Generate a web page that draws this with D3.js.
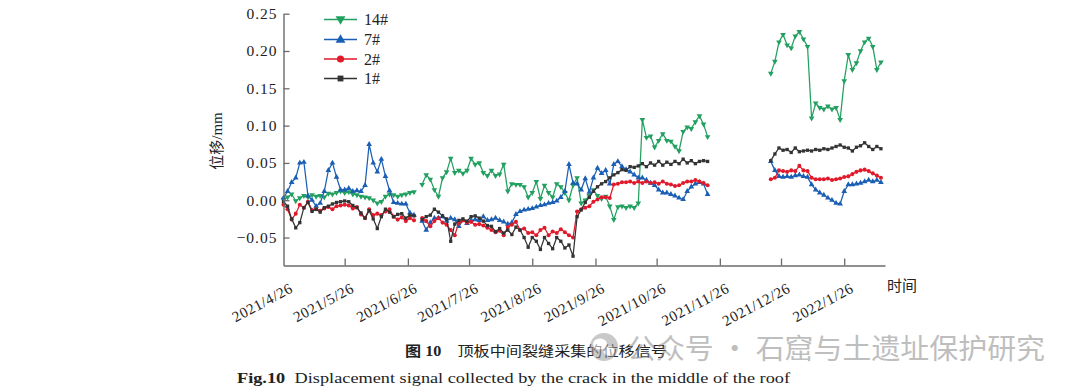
<!DOCTYPE html>
<html><head><meta charset="utf-8">
<script src="https://cdn.jsdelivr.net/npm/d3@7/dist/d3.min.js"></script>
<style>body{margin:0;background:#fff}svg{display:block}</style>
</head><body>
<svg id="chart" width="1080" height="392"></svg>
<script>
// ---------- data ----------
const seriesNames = ["14#", "7#", "2#", "1#"];
const seriesColors = ["#22a060", "#1a5fb4", "#e0192b", "#333333"];
const seriesSymbols = ["down", "up", "circle", "square"];
// three recording periods, one reading every 2 days
const segStarts = ["2021-04-26", "2021-07-03", "2021-12-21"];
const stepDays = 2;
const yTicks = [-0.05, 0.00, 0.05, 0.10, 0.15, 0.20, 0.25];
const xTickDates = ["2021-04-26","2021-05-26","2021-06-26","2021-07-26","2021-08-26","2021-09-26","2021-10-26","2021-11-26","2021-12-26","2022-01-26"];
const xTickLabels = ["2021/4/26","2021/5/26","2021/6/26","2021/7/26","2021/8/26","2021/9/26","2021/10/26","2021/11/26","2021/12/26","2022/1/26"];

const s14_a = [0.001,0.004,0.008,-0.001,0.003,0.006,0.004,0.007,0.005,0.006,0.004,0.009,0.008,0.010,0.012,0.010,0.011,0.008,0.007,0.005,0.004,0.003,0.000,-0.004,-0.002,0.005,0.008,0.007,0.005,0.007,0.008,0.010,0.011];
const s14_b = [0.021,0.034,0.028,0.014,0.005,0.030,0.038,0.056,0.037,0.040,
  0.036,0.040,0.056,0.048,0.050,0.037,0.033,0.040,0.033,0.035,
  0.048,0.012,0.022,0.021,0.021,0.018,0.004,0.010,0.025,0.002,
  0.020,0.010,0.004,0.022,0.018,0.010,0.000,0.020,0.030,-0.004,
  0.000,0.006,0.014,0.006,0.002,0.005,-0.008,-0.026,-0.009,-0.008,
  -0.010,-0.008,-0.010,-0.004,0.108,0.084,0.086,0.071,0.080,0.089,
  0.080,0.079,0.072,0.066,0.092,0.098,0.096,0.105,0.113,0.102,0.085];
const s14_c = [0.170,0.186,0.212,0.222,0.208,0.204,0.220,0.226,0.216,0.206,0.110,0.130,0.124,0.122,0.126,0.122,0.124,0.108,0.160,0.195,0.175,0.184,0.200,0.212,0.217,0.206,0.175,0.185];

const s7_a = [0.003,0.012,0.024,0.030,0.050,0.051,0.006,0.000,-0.008,-0.004,0.012,0.040,0.050,0.031,0.014,0.014,0.016,0.012,0.013,0.012,0.020,0.075,0.050,0.038,0.055,0.032,0.013,-0.003,-0.004,-0.005,-0.005,-0.017,-0.020];
const s7_b = [-0.028,-0.040,-0.030,-0.024,-0.024,-0.022,-0.028,-0.024,-0.026,-0.035,
  -0.027,-0.031,-0.027,-0.026,-0.027,-0.022,-0.027,-0.026,-0.024,-0.027,
  -0.029,-0.032,-0.030,-0.019,-0.015,-0.013,-0.012,-0.011,-0.009,-0.007,
  -0.006,-0.004,-0.003,-0.001,0.004,0.012,0.048,0.023,0.022,0.014,
  0.029,0.011,0.030,0.043,0.036,0.040,0.022,0.048,0.052,0.045,
  0.041,0.038,0.034,0.030,0.030,0.027,0.023,0.020,0.014,0.010,
  0.010,0.008,0.006,0.003,0.001,0.012,0.018,0.022,0.024,0.022,0.008];
const s7_c = [0.052,0.040,0.032,0.031,0.032,0.031,0.033,0.034,0.032,0.031,0.021,0.014,0.010,0.007,0.003,0.000,-0.004,-0.005,0.012,0.021,0.021,0.022,0.023,0.025,0.027,0.025,0.027,0.024];

const s2_a = [-0.006,-0.012,-0.026,-0.018,-0.006,-0.010,-0.002,-0.013,-0.012,-0.014,-0.011,-0.009,-0.012,-0.008,-0.007,-0.006,-0.007,-0.011,-0.009,-0.019,-0.024,-0.012,-0.020,-0.018,-0.020,-0.015,-0.012,-0.022,-0.026,-0.023,-0.028,-0.024,-0.027];
const s2_b = [-0.024,-0.028,-0.035,-0.028,-0.024,-0.030,-0.033,-0.040,-0.047,-0.030,
  -0.027,-0.030,-0.029,-0.033,-0.032,-0.034,-0.037,-0.040,-0.043,-0.041,
  -0.047,-0.036,-0.033,-0.029,-0.040,-0.038,-0.044,-0.043,-0.047,-0.040,
  -0.037,-0.047,-0.042,-0.044,-0.039,-0.043,-0.047,-0.050,-0.015,-0.012,
  -0.010,-0.008,-0.002,0.001,0.004,0.004,0.003,0.021,0.022,0.024,
  0.024,0.025,0.023,0.025,0.023,0.025,0.023,0.024,0.022,0.025,
  0.022,0.021,0.019,0.020,0.023,0.025,0.025,0.027,0.025,0.023,0.020];
const s2_c = [0.028,0.030,0.040,0.039,0.038,0.040,0.039,0.046,0.040,0.039,0.030,0.028,0.028,0.028,0.029,0.027,0.028,0.029,0.031,0.032,0.035,0.038,0.040,0.041,0.039,0.036,0.033,0.030];

const s1_a = [-0.002,-0.008,-0.025,-0.037,-0.030,-0.010,-0.003,-0.015,-0.012,-0.016,-0.010,-0.008,-0.005,-0.003,-0.002,-0.001,-0.002,-0.007,-0.010,-0.017,-0.024,-0.014,-0.025,-0.038,-0.022,-0.012,-0.016,-0.022,-0.019,-0.018,-0.024,-0.020,-0.021];
const s1_b = [-0.026,-0.022,-0.020,-0.012,-0.016,-0.021,-0.025,-0.055,-0.032,-0.027,
  -0.025,-0.028,-0.022,-0.021,-0.024,-0.028,-0.034,-0.035,-0.042,-0.038,
  -0.044,-0.040,-0.046,-0.036,-0.040,-0.050,-0.063,-0.050,-0.055,-0.066,
  -0.050,-0.058,-0.065,-0.050,-0.055,-0.064,-0.060,-0.075,-0.022,-0.013,
  -0.003,0.004,0.012,0.018,0.022,0.025,0.030,0.034,0.037,0.041,
  0.040,0.045,0.044,0.046,0.049,0.045,0.050,0.047,0.052,0.047,
  0.051,0.048,0.052,0.049,0.055,0.050,0.053,0.049,0.052,0.053,0.052];
const s1_c = [0.053,0.062,0.070,0.067,0.068,0.064,0.070,0.065,0.066,0.067,0.066,0.068,0.067,0.069,0.068,0.070,0.072,0.074,0.071,0.070,0.066,0.071,0.073,0.077,0.072,0.068,0.072,0.069];

const seriesValues = [[s14_a,s14_b,s14_c],[s7_a,s7_b,s7_c],[s2_a,s2_b,s2_c],[s1_a,s1_b,s1_c]];

// ---------- drawing ----------
const svg = d3.select("#chart");
svg.append("rect").attr("width",1080).attr("height",392).attr("fill","#fff");
const parse = s => { const [a,b,c] = s.split("-").map(Number); return new Date(Date.UTC(a,b-1,c)); };

const x = d3.scaleUtc().domain([parse("2021-04-26"), parse("2022-02-15")]).range([283.5, 885]);
const y = d3.scaleLinear().domain([-0.0875, 0.25]).range([265.5, 13.7]);

const axisColor = "#6b6b6b";
const serif = "'Liberation Serif','Times New Roman',serif";
const cjk = "'Liberation Serif','Noto Sans CJK SC',serif";

function symbolPath(kind, size) {
  if (kind === "circle") return d3.symbol(d3.symbolCircle, size)();
  if (kind === "square") return d3.symbol(d3.symbolSquare, size)();
  return d3.symbol(d3.symbolTriangle, size)();
}
function drawMarker(g, kind, cx, cy, size, color) {
  return g.append("path").attr("d", symbolPath(kind, size)).attr("fill", color)
    .attr("transform", `translate(${cx},${cy})` + (kind === "down" ? " rotate(180)" : ""));
}

const plot = svg.append("g");
const line = d3.line().x(d => x(d.date)).y(d => y(d.v));
const markerSize = {down: 14, up: 14, circle: 13, square: 11};

seriesNames.forEach((name, si) => {
  const col = seriesColors[si], kind = seriesSymbols[si];
  const g = plot.append("g");
  seriesValues[si].forEach((vals, k) => {
    const start = parse(segStarts[k]);
    const pts = vals.map((v, i) => ({date: d3.utcDay.offset(start, i * stepDays), v}));
    g.append("path").datum(pts).attr("d", line).attr("fill","none")
      .attr("stroke", col).attr("stroke-width", 1.25);
    pts.forEach(p => drawMarker(g, kind, x(p.date), y(p.v), markerSize[kind], col));
  });
});

// axes
const fmt = d => (d < 0 ? "\u2212" : "") + Math.abs(d).toFixed(2);
const gy = svg.append("g").attr("transform", `translate(${x.range()[0]},0)`)
  .call(d3.axisLeft(y).tickValues(yTicks).tickFormat(fmt).tickSizeInner(-6).tickSizeOuter(0).tickPadding(6));
const gx = svg.append("g").attr("transform", `translate(0,${y.range()[0]})`)
  .call(d3.axisBottom(x).tickValues(xTickDates.map(parse)).tickFormat((d,i) => xTickLabels[i]).tickSizeInner(-7).tickSizeOuter(0));
[gy, gx].forEach(g => {
  g.select(".domain").attr("stroke", axisColor).attr("stroke-width", 1.4);
  g.selectAll(".tick line").attr("stroke", axisColor).attr("stroke-width", 1.3);
  g.selectAll("text").attr("font-family", serif).attr("fill", "#222");
});
gy.selectAll("text").attr("font-size", 15.5).attr("letter-spacing", "1px");
gx.selectAll(".tick").filter((d,i) => i === 0).select("line").remove();
gx.selectAll("text").attr("font-size", 15).attr("letter-spacing", "0.6px")
  .attr("text-anchor", "end").attr("x", 0).attr("y", 0).attr("dy", 0)
  .attr("transform", "translate(10,26) rotate(-28)");

// axis titles
svg.append("text").attr("transform", "translate(222,141) rotate(-90)").attr("text-anchor","middle")
  .attr("font-family", cjk).attr("font-size", 15).attr("fill","#222").text("位移/mm");
svg.append("text").attr("x", 887).attr("y", 291).attr("font-family", cjk).attr("font-size", 15)
  .attr("fill","#222").text("时间");

// legend
const leg = svg.append("g");
const legRows = [19.5, 39.5, 59, 78.5];
seriesNames.forEach((name, si) => {
  const yy = legRows[si];
  leg.append("line").attr("x1", 324).attr("x2", 357).attr("y1", yy).attr("y2", yy)
    .attr("stroke", seriesColors[si]).attr("stroke-width", 1.3);
  const kind = seriesSymbols[si];
  drawMarker(leg, kind, 340.5, yy + (kind === "down" ? -0.5 : kind === "up" ? 0.5 : 0),
    kind === "circle" ? 40 : kind === "square" ? 34 : 42, seriesColors[si]);
  leg.append("text").attr("x", 364).attr("y", yy + 5.5).attr("font-family", serif)
    .attr("font-size", 16).attr("fill", "#222").text(name);
});

// captions
const cap1 = svg.append("text").attr("x", 405).attr("y", 356).attr("font-family", cjk)
  .attr("font-size", 14).attr("fill", "#222").attr("textLength", 262).attr("lengthAdjust", "spacingAndGlyphs");
cap1.append("tspan").attr("font-weight", "bold").text("图 10");
cap1.append("tspan").attr("dx", 14).text("顶板中间裂缝采集的位移信号");
const cap2 = svg.append("text").attr("x", 237).attr("y", 383).attr("font-family", serif)
  .attr("font-size", 15.5).attr("fill", "#222").attr("textLength", 553).attr("lengthAdjust", "spacingAndGlyphs");
cap2.append("tspan").attr("font-weight", "bold").text("Fig.10");
cap2.append("tspan").attr("dx", 8).text("Displacement signal collected by the crack in the middle of the roof");

// watermark
const wm = svg.append("g").attr("opacity", 0.55);
wm.append("circle").attr("cx", 604).attr("cy", 347).attr("r", 14).attr("fill", "#9e9e9e");
wm.append("ellipse").attr("cx", 600).attr("cy", 344).attr("rx", 7).attr("ry", 5.5).attr("fill", "#fff");
wm.append("ellipse").attr("cx", 609).attr("cy", 351).attr("rx", 5.5).attr("ry", 4.5).attr("fill", "#fff");
wm.append("text").attr("x", 627).attr("y", 359).attr("font-family", "'Noto Sans CJK SC',sans-serif")
  .attr("font-size", 28).attr("fill", "#8a8a8a").attr("textLength", 418).attr("lengthAdjust", "spacingAndGlyphs")
  .text("公众号 · 石窟与土遗址保护研究");
</script>
</body></html>
